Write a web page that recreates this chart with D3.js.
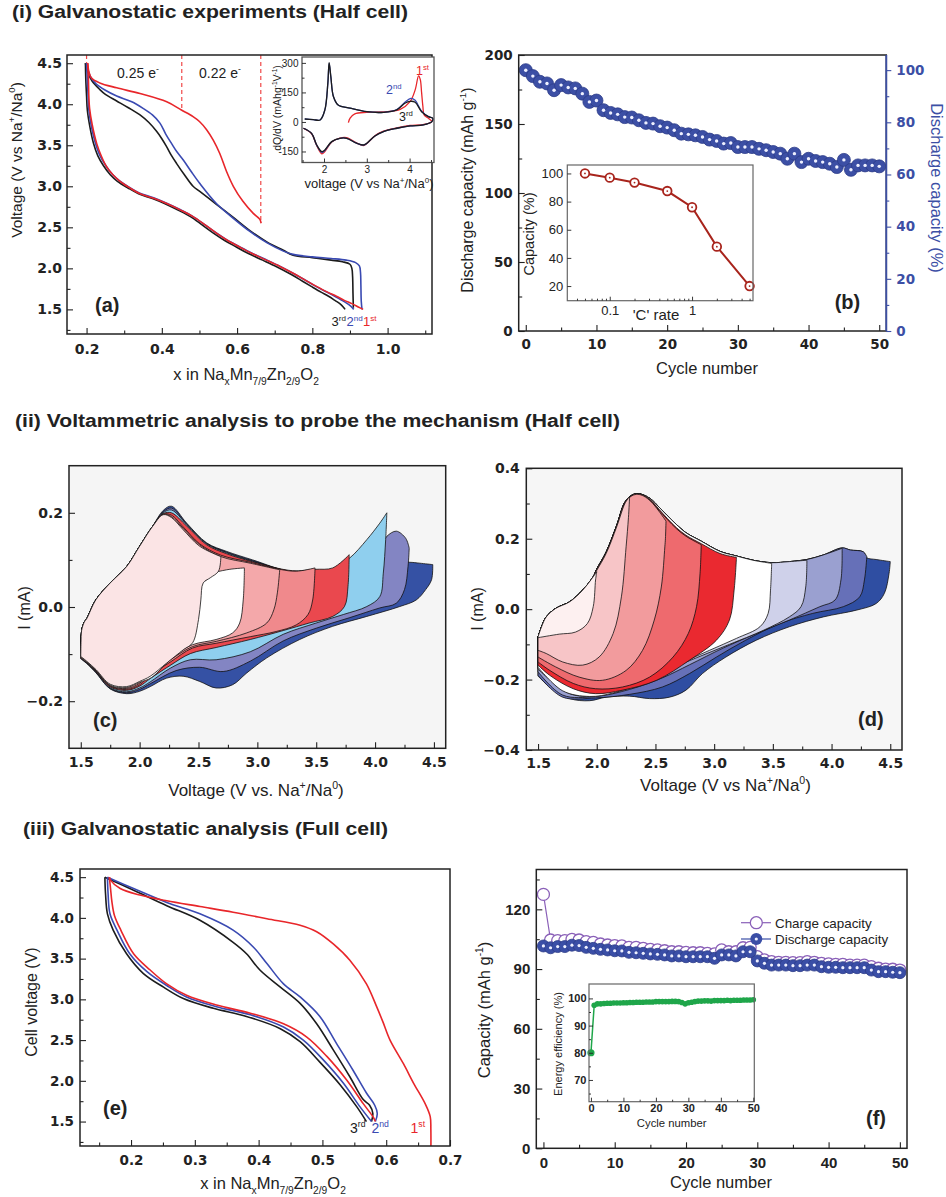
<!DOCTYPE html>
<html><head><meta charset="utf-8">
<script src="https://cdn.jsdelivr.net/npm/d3@7"></script>
<style>body{margin:0;background:#fff}svg{display:block}</style>
</head><body>
<svg id="chart" width="946" height="1197"></svg>
<script>
// ---------------- DATA ----------------
// (a) half-cell galvanostatic curves [x in NaxMn7/9Zn2/9O2, voltage]
const aRedCharge = [[0.664,2.55],[0.66,2.6],[0.643,2.67],[0.615,2.82],[0.59,3.0],[0.572,3.18],[0.554,3.4],[0.537,3.56],[0.519,3.69],[0.5,3.79],[0.483,3.85],[0.452,3.93],[0.413,4.03],[0.342,4.13],[0.28,4.2],[0.235,4.26],[0.213,4.32],[0.206,4.4],[0.204,4.46],[0.203,4.5]];
const aRedDischarge = [[0.203,4.5],[0.205,4.3],[0.206,4.1],[0.208,3.95],[0.215,3.75],[0.227,3.52],[0.24,3.36],[0.253,3.24],[0.27,3.14],[0.289,3.06],[0.315,2.98],[0.342,2.91],[0.38,2.85],[0.413,2.79],[0.45,2.71],[0.483,2.63],[0.515,2.53],[0.545,2.43],[0.575,2.34],[0.607,2.26],[0.64,2.18],[0.678,2.1],[0.715,2.02],[0.749,1.94],[0.78,1.86],[0.811,1.78],[0.84,1.71],[0.864,1.66],[0.885,1.61],[0.905,1.57],[0.922,1.53],[0.935,1.5]];
const aBlueCharge = [[0.932,1.5],[0.93,1.6],[0.929,1.8],[0.928,1.95],[0.925,2.03],[0.915,2.07],[0.89,2.1],[0.85,2.12],[0.8,2.14],[0.749,2.17],[0.723,2.21],[0.68,2.31],[0.634,2.45],[0.59,2.61],[0.545,2.79],[0.5,3.04],[0.478,3.18],[0.457,3.32],[0.44,3.42],[0.426,3.52],[0.41,3.64],[0.395,3.77],[0.375,3.87],[0.35,3.95],[0.32,4.03],[0.28,4.1],[0.25,4.17],[0.225,4.25],[0.21,4.34],[0.202,4.45],[0.2,4.5]];
const aBlueDischarge = [[0.2,4.5],[0.202,4.3],[0.204,4.1],[0.206,3.93],[0.212,3.75],[0.222,3.55],[0.235,3.38],[0.25,3.26],[0.268,3.15],[0.287,3.07],[0.313,2.99],[0.34,2.92],[0.378,2.86],[0.41,2.8],[0.447,2.72],[0.48,2.64],[0.512,2.54],[0.542,2.44],[0.572,2.35],[0.604,2.27],[0.637,2.19],[0.675,2.11],[0.712,2.03],[0.745,1.95],[0.776,1.87],[0.806,1.79],[0.834,1.72],[0.856,1.67],[0.875,1.62],[0.89,1.58],[0.902,1.54],[0.91,1.5]];
const aBlackCharge = [[0.909,1.52],[0.908,1.7],[0.907,1.9],[0.905,2.0],[0.9,2.05],[0.88,2.08],[0.85,2.1],[0.8,2.13],[0.749,2.16],[0.723,2.22],[0.68,2.32],[0.634,2.46],[0.59,2.62],[0.545,2.78],[0.5,2.94],[0.483,3.0],[0.46,3.14],[0.439,3.28],[0.425,3.38],[0.413,3.48],[0.4,3.58],[0.386,3.67],[0.365,3.78],[0.342,3.87],[0.31,3.96],[0.28,4.04],[0.25,4.12],[0.235,4.18],[0.215,4.28],[0.204,4.38],[0.197,4.5]];
const aBlackDischarge = [[0.197,4.5],[0.198,4.3],[0.2,4.1],[0.202,3.93],[0.209,3.72],[0.218,3.53],[0.23,3.37],[0.245,3.25],[0.263,3.14],[0.282,3.06],[0.31,2.98],[0.338,2.91],[0.375,2.85],[0.407,2.79],[0.443,2.71],[0.476,2.63],[0.507,2.53],[0.537,2.43],[0.567,2.34],[0.598,2.26],[0.63,2.18],[0.668,2.1],[0.705,2.02],[0.738,1.94],[0.768,1.86],[0.797,1.78],[0.823,1.71],[0.843,1.66],[0.86,1.61],[0.873,1.57],[0.882,1.53],[0.887,1.5]];
const aDashMarks = [[0.2,4.5],[0.453,3.93],[0.663,2.57]];
const aXTicks = [0.2,0.4,0.6,0.8,1.0], aXMinor = [0.3,0.5,0.7,0.9,1.1];
const aYTicks = [1.5,2.0,2.5,3.0,3.5,4.0,4.5], aYMinor = [1.25,1.75,2.25,2.75,3.25,3.75,4.25];
// (a) inset dQ/dV [V, mAh g-1 V-1]
const aiBlack = [[1.55,15],[1.75,12],[1.91,10],[2.02,61],[2.09,197],[2.12,301],[2.16,230],[2.22,129],[2.33,86],[2.61,70],[3.0,52],[3.39,49],[3.7,61],[3.89,95],[4.01,105],[4.13,100],[4.28,52],[4.44,27],[4.54,19],[4.52,2],[4.32,-15],[4.01,-20],[3.7,-32],[3.39,-49],[3.19,-71],[3.0,-108],[2.92,-117],[2.76,-108],[2.53,-83],[2.37,-83],[2.18,-100],[2.02,-142],[1.95,-151],[1.83,-117],[1.71,-58],[1.52,-32]];
const aiBlue = [[1.55,15],[1.75,12],[1.91,10],[2.02,61],[2.09,197],[2.12,298],[2.16,228],[2.22,129],[2.33,86],[2.61,70],[3.0,52],[3.39,49],[3.7,63],[3.89,100],[4.03,120],[4.13,110],[4.28,55],[4.44,27],[4.54,19],[4.52,2],[4.32,-15],[4.01,-20],[3.7,-32],[3.39,-49],[3.19,-71],[3.0,-109],[2.92,-118],[2.76,-108],[2.53,-83],[2.37,-83],[2.18,-101],[2.02,-145],[1.95,-155],[1.83,-118],[1.71,-58],[1.52,-32]];
const aiRed = [[2.57,-3],[2.61,19],[2.72,41],[3.0,49],[3.46,52],[3.78,64],[4.01,103],[4.13,163],[4.21,234],[4.25,215],[4.28,150],[4.31,80],[4.34,36],[4.44,19],[4.52,2],[4.32,-13],[4.01,-18],[3.7,-30],[3.39,-47],[3.19,-70],[3.0,-110],[2.92,-120],[2.76,-106],[2.53,-80],[2.37,-82],[2.18,-102],[2.02,-150],[1.95,-162],[1.83,-120],[1.71,-60],[1.52,-32]];
const aiXTicks = [2,3,4], aiXMinor = [1.5,2.5,3.5,4.5], aiYTicks = [-150,0,150,300], aiYMinor = [-75,75,225];

// (b) cycling, discharge capacity (mAh g-1)
const bCycle = d3.range(0, 51);
const bCapacity = [189,184.7,180.6,179.4,174.5,178.2,176.5,175.8,172,166,167,160,158,157,155,154.7,152.7,150.8,150.3,148.4,147.4,145.5,143,142.5,141.8,140.6,138.7,137.7,135.8,136.2,133.3,133.3,133.3,132,131,129.7,128.5,124.8,128.5,122.4,124.8,123.2,122.4,121.2,118.8,124,116.8,120,120,120,119.3];
const bXTicks = [0,10,20,30,40,50], bXMinor = [5,15,25,35,45];
const bYTicks = [0,50,100,150,200], bYMinor = [25,75,125,175];
const bRTicks = [0,20,40,60,80,100], bRMinor = [10,30,50,70,90];
// (b) inset rate capability
const biRate = [0.05,0.1,0.2,0.5,1,2,5];
const biCapacity = [100,97,93.5,87.5,76,48,20];
const biXTicks = [0.1,1], biXMinor = [0.04,0.05,0.06,0.07,0.08,0.09,0.2,0.3,0.4,0.5,0.6,0.7,0.8,0.9,2,3,4,5];
const biYTicks = [20,40,60,80,100];

// (c) CV loops, upper cutoffs (V), drawn back to front
const cCutoffs = [4.5,4.3,4.1,3.8,3.5,3.2,2.9,2.7];
const cColors = ['#3551a4','#8385c3','#8fcfee','#ea484e','#f0898c','#f4a8aa','#ffffff','#fbe4e5'];
const cRise = [[1.5,-0.105],[1.502,-0.075],[1.507,-0.05],[1.53,-0.032],[1.55,-0.025],[1.63,0.016],[1.75,0.051],[1.89,0.086],[2.0,0.129],[2.11,0.171]];
const cTails = [
 [[2.2,0.205],[2.27,0.214],[2.4,0.178],[2.57,0.136],[2.74,0.118],[2.96,0.1],[3.3,0.074],[3.6,0.074],[3.9,0.085],[4.1,0.093],[4.29,0.095],[4.38,0.093],[4.49,0.09]],
 [[2.2,0.202],[2.27,0.21],[2.4,0.176],[2.57,0.135],[2.74,0.116],[2.96,0.098],[3.3,0.074],[3.6,0.074],[3.9,0.09],[4.05,0.13],[4.1,0.15],[4.18,0.161],[4.26,0.146],[4.29,0.125]],
 [[2.2,0.2],[2.27,0.206],[2.4,0.175],[2.57,0.134],[2.74,0.115],[2.96,0.097],[3.3,0.075],[3.6,0.076],[3.78,0.103],[3.93,0.143],[4.04,0.178],[4.1,0.2]],
 [[2.2,0.198],[2.27,0.2],[2.4,0.172],[2.57,0.132],[2.74,0.113],[2.96,0.096],[3.3,0.077],[3.49,0.08],[3.64,0.083],[3.78,0.111]],
 [[2.2,0.197],[2.27,0.195],[2.37,0.17],[2.51,0.134],[2.69,0.11],[2.94,0.095],[3.19,0.08],[3.33,0.076],[3.49,0.083]],
 [[2.2,0.196],[2.27,0.192],[2.37,0.167],[2.51,0.132],[2.69,0.107],[2.94,0.093],[3.19,0.079]],
 [[2.2,0.19],[2.3,0.155],[2.4,0.105],[2.5,0.062],[2.56,0.056],[2.6,0.069],[2.74,0.079],[2.89,0.083]],
 [[2.2,0.196],[2.27,0.19],[2.37,0.164],[2.51,0.129],[2.69,0.107]]
];
const cLowers = [
 [[4.48,0.058],[4.43,0.037],[4.35,0.015],[4.21,0.001],[3.93,-0.02],[3.64,-0.041],[3.36,-0.069],[3.08,-0.108],[2.91,-0.14],[2.79,-0.165],[2.65,-0.172],[2.51,-0.158],[2.37,-0.147],[2.23,-0.151],[2.09,-0.169],[2.0,-0.179],[1.89,-0.184],[1.75,-0.174],[1.63,-0.14],[1.55,-0.12],[1.5,-0.11]],
 [[4.28,0.086],[4.25,0.037],[4.18,0.008],[4.04,-0.002],[3.78,-0.023],[3.5,-0.045],[3.22,-0.072],[2.94,-0.115],[2.71,-0.137],[2.51,-0.128],[2.31,-0.135],[2.09,-0.163],[2.0,-0.175],[1.89,-0.182],[1.75,-0.173],[1.63,-0.139],[1.55,-0.119],[1.5,-0.109]],
 [[4.09,0.143],[4.07,0.072],[4.04,0.022],[3.93,0.001],[3.73,-0.016],[3.5,-0.034],[3.22,-0.058],[2.94,-0.095],[2.65,-0.112],[2.43,-0.112],[2.26,-0.13],[2.09,-0.159],[2.0,-0.172],[1.89,-0.18],[1.75,-0.172],[1.63,-0.138],[1.55,-0.118],[1.5,-0.108]],
 [[3.77,0.044],[3.74,0.001],[3.64,-0.02],[3.44,-0.034],[3.22,-0.05],[2.94,-0.069],[2.65,-0.086],[2.43,-0.099],[2.26,-0.124],[2.09,-0.152],[2.0,-0.168],[1.89,-0.177],[1.75,-0.17],[1.63,-0.137],[1.55,-0.118],[1.5,-0.108]],
 [[3.47,0.015],[3.43,-0.016],[3.33,-0.038],[3.16,-0.052],[2.94,-0.063],[2.65,-0.077],[2.45,-0.087],[2.26,-0.117],[2.09,-0.145],[2.0,-0.165],[1.89,-0.175],[1.75,-0.168],[1.63,-0.136],[1.55,-0.118],[1.5,-0.108]],
 [[3.17,0.03],[3.14,-0.006],[3.08,-0.034],[2.91,-0.055],[2.65,-0.073],[2.45,-0.084],[2.26,-0.112],[2.09,-0.14],[2.0,-0.162],[1.89,-0.173],[1.75,-0.167],[1.63,-0.135],[1.55,-0.117],[1.5,-0.107]],
 [[2.88,0.015],[2.85,-0.034],[2.79,-0.055],[2.65,-0.069],[2.45,-0.08],[2.3,-0.102],[2.1,-0.15],[2.0,-0.16],[1.89,-0.171],[1.75,-0.166],[1.63,-0.134],[1.55,-0.116],[1.5,-0.106]],
 [[2.67,0.076],[2.6,0.062],[2.54,0.051],[2.52,0.015],[2.5,-0.027],[2.45,-0.076],[2.37,-0.091],[2.23,-0.119],[2.09,-0.147],[2.0,-0.158],[1.89,-0.169],[1.75,-0.164],[1.63,-0.133],[1.55,-0.115],[1.5,-0.105]]
];
const cXTicks = [1.5,2.0,2.5,3.0,3.5,4.0,4.5], cXMinor = [1.75,2.25,2.75,3.25,3.75,4.25];
const cYTicks = [-0.2,0.0,0.2], cYMinor = [-0.1,0.1];

// (d) CV loops
const dCutoffs = [4.5,4.3,4.1,3.8,3.5,3.2,2.9,2.6,2.3,2.0];
const dColors = ['#2f4ea2','#6670b8','#9aa0d0','#cfd1ea','#ffffff','#ea2930','#ee6a6e','#f29b9d','#f7c5c7','#fdf0f0'];
const dRise = [[1.5,-0.079],[1.53,-0.05],[1.57,-0.022],[1.65,0.002],[1.77,0.021],[1.88,0.054],[1.97,0.092]];
const dBlueTop = [[2.0,0.114],[2.08,0.162],[2.17,0.238],[2.24,0.304],[2.3,0.324],[2.35,0.328],[2.4,0.324],[2.46,0.313],[2.53,0.29],[2.6,0.266],[2.68,0.24],[2.76,0.217],[2.89,0.193],[3.05,0.164],[3.19,0.151]];
const dTails = [
 dBlueTop.concat([[3.33,0.139],[3.49,0.132],[3.64,0.135],[3.79,0.141],[3.93,0.154],[4.09,0.174],[4.16,0.168],[4.27,0.163],[4.3,0.146],[4.38,0.141],[4.5,0.135]]),
 dBlueTop.concat([[3.33,0.139],[3.49,0.132],[3.64,0.135],[3.79,0.141],[3.93,0.154],[4.09,0.174],[4.16,0.168],[4.27,0.163],[4.3,0.149]]),
 dBlueTop.concat([[3.33,0.139],[3.49,0.132],[3.64,0.135],[3.79,0.141],[3.93,0.154],[4.09,0.173]]),
 dBlueTop.concat([[3.33,0.139],[3.49,0.132],[3.64,0.135],[3.79,0.139]]),
 dBlueTop.concat([[3.33,0.139],[3.49,0.13]]),
 [[2.0,0.113],[2.08,0.161],[2.17,0.237],[2.24,0.303],[2.3,0.323],[2.35,0.327],[2.4,0.323],[2.46,0.31],[2.53,0.284],[2.6,0.258],[2.68,0.231],[2.76,0.21],[2.89,0.186],[3.05,0.158],[3.19,0.147]],
 [[2.0,0.113],[2.08,0.161],[2.17,0.237],[2.24,0.303],[2.3,0.323],[2.35,0.327],[2.4,0.322],[2.46,0.308],[2.53,0.281],[2.6,0.255],[2.68,0.228],[2.76,0.207],[2.89,0.183]],
 [[2.0,0.112],[2.08,0.16],[2.17,0.236],[2.24,0.302],[2.3,0.322],[2.35,0.326],[2.4,0.321],[2.46,0.306],[2.53,0.278],[2.59,0.25]],
 [[2.0,0.11],[2.08,0.158],[2.17,0.234],[2.24,0.3],[2.28,0.32]],
 [[2.0,0.106]]
];
const dLowers = [
 [[4.49,0.102],[4.45,0.045],[4.38,0.016],[4.21,-0.003],[3.93,-0.022],[3.64,-0.05],[3.36,-0.088],[3.1,-0.136],[2.9,-0.183],[2.76,-0.23],[2.62,-0.25],[2.45,-0.254],[2.28,-0.247],[2.08,-0.25],[1.94,-0.26],[1.77,-0.254],[1.6,-0.221],[1.5,-0.19]],
 [[4.28,0.083],[4.24,0.035],[4.1,0.007],[3.84,-0.012],[3.56,-0.041],[3.27,-0.088],[3.02,-0.136],[2.79,-0.183],[2.56,-0.221],[2.28,-0.242],[1.99,-0.252],[1.71,-0.25],[1.5,-0.188]],
 [[4.08,0.083],[4.03,0.026],[3.9,0.007],[3.64,-0.031],[3.36,-0.069],[3.08,-0.11],[2.79,-0.158],[2.56,-0.195],[2.28,-0.228],[1.99,-0.248],[1.71,-0.244],[1.5,-0.178]],
 [[3.78,0.063],[3.74,0.007],[3.64,-0.022],[3.42,-0.06],[3.13,-0.1],[2.85,-0.138],[2.56,-0.178],[2.28,-0.215],[1.99,-0.245],[1.77,-0.24],[1.5,-0.17]],
 [[3.48,0.054],[3.46,-0.012],[3.39,-0.05],[3.19,-0.083],[2.96,-0.117],[2.71,-0.155],[2.42,-0.205],[2.14,-0.238],[1.94,-0.248],[1.71,-0.232],[1.5,-0.165]],
 [[3.17,0.054],[3.13,-0.031],[3.02,-0.088],[2.79,-0.145],[2.51,-0.202],[2.22,-0.23],[1.99,-0.24],[1.8,-0.226],[1.6,-0.188],[1.5,-0.159]],
 [[2.88,0.102],[2.85,0.007],[2.78,-0.069],[2.65,-0.136],[2.45,-0.193],[2.22,-0.221],[1.99,-0.226],[1.8,-0.211],[1.6,-0.174],[1.5,-0.15]],
 [[2.585,0.2],[2.58,0.177],[2.55,0.063],[2.49,-0.031],[2.39,-0.117],[2.25,-0.174],[2.05,-0.202],[1.85,-0.193],[1.65,-0.164],[1.5,-0.136]],
 [[2.27,0.26],[2.25,0.177],[2.21,0.035],[2.14,-0.069],[2.02,-0.136],[1.88,-0.159],[1.71,-0.15],[1.57,-0.126],[1.5,-0.117]],
 [[1.99,0.083],[1.97,0.007],[1.92,-0.041],[1.82,-0.065],[1.68,-0.071],[1.5,-0.081]]
];
const dYTicks = [-0.4,-0.2,0.0,0.2,0.4], dYMinor = [-0.3,-0.1,0.1,0.3];

// (e) full cell galvanostatic curves
const eRedCharge = [[0.67,1.1],[0.67,1.4],[0.669,1.56],[0.661,1.72],[0.643,1.97],[0.627,2.21],[0.606,2.5],[0.595,2.72],[0.585,2.91],[0.569,3.19],[0.543,3.48],[0.517,3.68],[0.491,3.83],[0.465,3.91],[0.413,3.99],[0.36,4.07],[0.308,4.14],[0.256,4.21],[0.214,4.28],[0.183,4.36],[0.168,4.46],[0.166,4.5]];
const eRedDischarge = [[0.166,4.5],[0.168,4.35],[0.17,4.2],[0.174,4.03],[0.184,3.85],[0.204,3.56],[0.23,3.36],[0.256,3.19],[0.287,3.05],[0.334,2.93],[0.387,2.83],[0.439,2.7],[0.475,2.54],[0.507,2.3],[0.538,2.01],[0.564,1.72],[0.58,1.55],[0.583,1.5]];
const eBlueCharge = [[0.583,1.5],[0.586,1.6],[0.582,1.7],[0.569,1.85],[0.548,2.13],[0.522,2.46],[0.496,2.79],[0.465,3.03],[0.439,3.19],[0.413,3.44],[0.392,3.64],[0.36,3.85],[0.308,4.05],[0.256,4.19],[0.204,4.36],[0.163,4.5]];
const eBlueDischarge = [[0.163,4.5],[0.164,4.3],[0.167,4.05],[0.178,3.85],[0.198,3.56],[0.225,3.34],[0.256,3.17],[0.287,3.03],[0.334,2.91],[0.387,2.81],[0.439,2.66],[0.47,2.5],[0.501,2.26],[0.533,1.97],[0.559,1.68],[0.577,1.5]];
const eBlackCharge = [[0.577,1.5],[0.579,1.6],[0.574,1.7],[0.564,1.77],[0.543,2.05],[0.517,2.38],[0.491,2.7],[0.465,2.95],[0.434,3.15],[0.402,3.36],[0.381,3.56],[0.36,3.7],[0.308,3.97],[0.256,4.15],[0.204,4.34],[0.159,4.5]];
const eBlackDischarge = [[0.159,4.5],[0.16,4.3],[0.163,4.05],[0.172,3.85],[0.193,3.56],[0.219,3.32],[0.251,3.15],[0.282,3.01],[0.329,2.89],[0.381,2.79],[0.434,2.64],[0.465,2.48],[0.496,2.23],[0.528,1.95],[0.554,1.68],[0.569,1.5]];
const eXTicks = [0.2,0.3,0.4,0.5,0.6,0.7], eXMinor = [0.15,0.25,0.35,0.45,0.55,0.65];
const eYTicks = [1.5,2.0,2.5,3.0,3.5,4.0,4.5], eYMinor = [1.25,1.75,2.25,2.75,3.25,3.75,4.25];

// (f) full cell cycling
const fCycle = d3.range(0, 51);
const fCharge = [127.5,104.6,104.3,104.3,104.9,104.6,103.8,103.4,102.6,102.1,101.8,101.6,100.9,100.9,100.4,99.9,99.6,99.2,98.7,98.7,98.4,98.2,98.2,97.9,97.6,99.6,98.7,98.7,100.7,100.9,96.2,94.6,93.7,93.4,93.4,93.2,93.2,93.7,93.4,92.9,92.6,92.4,92.4,92.0,92.0,92.0,91.2,90.4,90.0,89.9,89.5];
const fDischarge = [101.6,100.7,101.3,101.3,102.0,101.8,100.9,100.4,99.9,99.6,99.2,99.1,98.4,98.2,97.9,97.6,97.4,97.1,96.6,96.6,96.2,96.2,96.2,96.2,95.4,97.1,97.1,96.6,98.7,98.7,94.1,92.9,92.0,92.0,92.0,91.7,91.7,92.0,92.0,91.2,90.9,90.9,90.7,90.7,90.7,90.7,89.5,88.7,88.7,88.4,88.2];
const fEfficiency = [80,97.5,98,98,98.1,98.2,98.2,98.3,98.3,98.3,98.4,98.4,98.5,98.5,98.6,98.6,98.6,98.7,98.7,98.7,98.8,98.8,98.8,98.8,98.8,98.9,98.9,98.8,98.5,98.0,98.4,98.6,98.8,99.0,99.0,99.1,99.1,99.0,99.2,99.2,99.2,99.2,99.3,99.2,99.3,99.3,99.3,99.4,99.4,99.4,99.5];
const fXTicks = [0,10,20,30,40,50], fXMinor = [5,15,25,35,45];
const fYTicks = [0,30,60,90,120], fYMinor = [15,45,75,105,135];
const fiYTicks = [70,80,90,100], fiYMinor = [65,75,85,95];

// ---------------- DRAWING ----------------
const FONT = '"Liberation Sans", Arial, Helvetica, sans-serif';
const TFONT = '"DejaVu Sans", Verdana, sans-serif';
const RED = '#e8262a', BLUE = '#3a4ab2', BLACK = '#1c1c1c', DARK = '#222';
const svg = d3.select('#chart');
const defs = svg.append('defs');
const curve = d3.curveCatmullRom.alpha(0.5);

function clip(id, x0, y0, x1, y1) {
  defs.append('clipPath').attr('id', id).append('rect').attr('x', x0).attr('y', y0).attr('width', x1 - x0).attr('height', y1 - y0);
  return `url(#${id})`;
}
function frame(g, x0, y0, x1, y1, col, sw) {
  g.append('rect').attr('x', x0).attr('y', y0).attr('width', x1 - x0).attr('height', y1 - y0)
    .attr('fill', 'none').attr('stroke', col || DARK).attr('stroke-width', sw || 1.5);
}
function axis(g, scale, orient, at, major, minor, o) {
  const mk = {bottom: d3.axisBottom, left: d3.axisLeft, right: d3.axisRight}[orient];
  const tr = orient === 'bottom' ? `translate(0,${at})` : `translate(${at},0)`;
  const dir = o.out ? 1 : -1;
  const col = o.color || DARK;
  if (minor) {
    const m = g.append('g').attr('transform', tr).call(mk(scale).tickValues(minor).tickSizeInner(dir * (o.minLen || 3.5)).tickSizeOuter(0).tickFormat(''));
    m.select('.domain').remove();
    m.selectAll('line').attr('stroke', col).attr('stroke-width', o.sw || 1.1);
    m.selectAll('text').remove();
  }
  const a = g.append('g').attr('transform', tr).call(mk(scale).tickValues(major).tickSizeInner(dir * (o.len || 6)).tickSizeOuter(0).tickPadding(o.pad).tickFormat(o.fmt));
  a.select('.domain').remove();
  a.selectAll('line').attr('stroke', col).attr('stroke-width', o.sw || 1.1);
  a.selectAll('text').attr('font-family', o.family || TFONT).attr('font-size', o.fs).attr('font-weight', o.weight || 'bold').attr('fill', col);
}
function rich(g, x, y, parts, fs, o = {}) {
  const t = g.append('text').attr('x', x).attr('y', y)
    .attr('font-family', o.family || FONT).attr('font-size', fs)
    .attr('font-weight', o.weight || 'normal').attr('fill', o.color || DARK)
    .attr('text-anchor', o.anchor || 'start');
  if (o.rotate) t.attr('transform', `rotate(${o.rotate},${x},${y})`);
  if (o.len) t.attr('textLength', o.len).attr('lengthAdjust', 'spacingAndGlyphs');
  let cur = 0;
  for (const p of parts) {
    const [s, k] = Array.isArray(p) ? p : [p, ''];
    const off = k === 'sup' ? -0.42 * fs : k === 'sub' ? 0.28 * fs : 0;
    const ts = t.append('tspan').text(s);
    if (off - cur !== 0) ts.attr('dy', off - cur);
    if (k) ts.attr('font-size', fs * 0.62);
    cur = off;
  }
  return t;
}
function lineGen(xs, ys) { return d3.line().x(d => xs(d[0])).y(d => ys(d[1])).curve(curve); }
function loopD(xs, ys, upper, lower) {
  const ln = lineGen(xs, ys);
  const a = ln(upper);
  const b = ln([upper[upper.length - 1]].concat(lower));
  return a + b.replace(/^M[^A-Za-z]*/, '') + 'Z';
}
const fmtInt = d3.format('d');
const minusFmt = d => d < 0 ? '-' + fmtInt(-d) : fmtInt(d);

// Section titles
rich(svg, 12, 18, ['(i) Galvanostatic experiments (Half cell)'], 18, {weight: 'bold', len: 396});
rich(svg, 15, 427, ['(ii) Voltammetric analysis to probe the mechanism (Half cell)'], 18, {weight: 'bold', len: 605});
rich(svg, 23, 835, ['(iii) Galvanostatic analysis (Full cell)'], 18, {weight: 'bold', len: 365});

// ---------- (a) ----------
{
  const g = svg.append('g');
  const x = d3.scaleLinear([0.148, 1.118], [67, 432]);
  const y = d3.scaleLinear([1.2, 4.6], [334, 55]);
  const cp = clip('clipA', 67, 55, 432, 334);
  const pg = g.append('g').attr('clip-path', cp);
  const ln = lineGen(x, y);
  pg.selectAll('line.dash').data(aDashMarks).join('line')
    .attr('x1', d => x(d[0])).attr('x2', d => x(d[0])).attr('y1', y(4.6)).attr('y2', d => y(d[1]))
    .attr('stroke', '#f04848').attr('stroke-width', 1.2).attr('stroke-dasharray', '4,3');
  [[aBlackCharge, BLACK], [aBlackDischarge, BLACK], [aBlueCharge, BLUE], [aBlueDischarge, BLUE], [aRedCharge, RED], [aRedDischarge, RED]]
    .forEach(([d, c]) => pg.append('path').attr('d', ln(d)).attr('fill', 'none').attr('stroke', c).attr('stroke-width', 1.6));
  frame(g, 67, 55, 432, 334);
  axis(g, x, 'bottom', 334, aXTicks, aXMinor, {pad: 10, fs: 14, fmt: d3.format('.1f')});
  axis(g, y, 'left', 67, aYTicks, aYMinor, {pad: 5, fs: 14, fmt: d3.format('.1f')});
  rich(g, 22, 160, ['Voltage (V vs Na', ['+', 'sup'], '/Na', ['0', 'sup'], ')'], 15.5, {anchor: 'middle', rotate: -90});
  rich(g, 246, 380, ['x in Na', ['x', 'sub'], 'Mn', ['7/9', 'sub'], 'Zn', ['2/9', 'sub'], 'O', ['2', 'sub']], 16.5, {anchor: 'middle'});
  rich(g, 117, 78, ['0.25 e', ['-', 'sup']], 14);
  rich(g, 199, 78, ['0.22 e', ['-', 'sup']], 14);
  rich(g, 331.5, 326, ['3', ['rd', 'sup']], 13, {color: BLACK});
  rich(g, 346.5, 326, ['2', ['nd', 'sup']], 13, {color: BLUE});
  rich(g, 363, 326, ['1', ['st', 'sup']], 13, {color: RED});
  g.append('text').attr('x', 95).attr('y', 312).attr('font-family', FONT).attr('font-size', 20).attr('font-weight', 'bold').attr('fill', DARK).text('(a)');

  // inset
  const ix = d3.scaleLinear([1.486, 4.57], [302, 434]);
  const iy = d3.scaleLinear([-206, 330], [162.5, 57]);
  g.append('rect').attr('x', 302).attr('y', 57).attr('width', 132).attr('height', 105.5).attr('fill', '#fff');
  const icp = clip('clipAi', 302, 57, 434, 162.5);
  const ig = g.append('g').attr('clip-path', icp);
  const iln = lineGen(ix, iy);
  [[aiRed, RED], [aiBlue, BLUE], [aiBlack, BLACK]].forEach(([d, c]) =>
    ig.append('path').attr('d', iln(d)).attr('fill', 'none').attr('stroke', c).attr('stroke-width', 1.3));
  frame(g, 302, 57, 434, 162.5, '#555', 1.3);
  axis(g, ix, 'bottom', 162.5, aiXTicks, aiXMinor, {pad: 3.7, fs: 10, family: FONT, weight: 'normal', len: 4, minLen: 2.5, sw: 0.9, fmt: fmtInt});
  axis(g, iy, 'left', 302, aiYTicks, aiYMinor, {pad: 3.5, fs: 10, family: FONT, weight: 'normal', len: 4, minLen: 2.5, sw: 0.9, fmt: minusFmt});
  rich(g, 281, 108, ['dQ/dV (mAhg', ['-1', 'sup'], 'V', ['-1', 'sup'], ')'], 10.5, {anchor: 'middle', rotate: -90});
  rich(g, 369, 188, ['voltage (V vs Na', ['+', 'sup'], '/Na', ['0', 'sup'], ')'], 13, {anchor: 'middle'});
  rich(g, 416, 75, ['1', ['st', 'sup']], 12.5, {color: RED});
  rich(g, 386, 94, ['2', ['nd', 'sup']], 12.5, {color: BLUE});
  rich(g, 399, 121, ['3', ['rd', 'sup']], 12.5, {color: BLACK});
}

// ---------- (b) ----------
{
  const g = svg.append('g');
  const x = d3.scaleLinear([-1, 51], [518.7, 886.3]);
  const yL = d3.scaleLinear([0, 200], [331, 55]);
  const yR = d3.scaleLinear([0, 105.8], [331, 55]);
  const MB = '#3c4fa5';
  const pts = g.append('g').attr('clip-path', clip('clipB', 518.7, 55, 886.3, 331));
  pts.selectAll('circle.o').data(bCapacity).join('circle')
    .attr('cx', (d, i) => x(bCycle[i])).attr('cy', d => yL(d)).attr('r', 6.5)
    .attr('fill', MB).attr('stroke', '#2c3b88').attr('stroke-width', 0.8);
  pts.selectAll('circle.i').data(bCapacity).join('circle')
    .attr('cx', (d, i) => x(bCycle[i])).attr('cy', d => yL(d)).attr('r', 1.7).attr('fill', '#eef0ff');
  frame(g, 518.7, 55, 886.3, 331);
  g.append('line').attr('x1', 886.3).attr('x2', 886.3).attr('y1', 55).attr('y2', 331).attr('stroke', MB).attr('stroke-width', 1.8);
  axis(g, x, 'bottom', 331, bXTicks, bXMinor, {pad: 8.4, fs: 13.5, fmt: fmtInt});
  axis(g, yL, 'left', 518.7, bYTicks, bYMinor, {pad: 6, fs: 13.5, fmt: fmtInt});
  axis(g, yR, 'right', 886.3, bRTicks, bRMinor, {pad: 5, fs: 13.5, fmt: fmtInt, out: true, color: MB, len: 5, minLen: 3});
  rich(g, 473, 190, ['Discharge capacity (mAh g', ['-1', 'sup'], ')'], 16, {anchor: 'middle', rotate: -90});
  rich(g, 931, 188, ['Discharge capacity (%)'], 16.5, {anchor: 'middle', rotate: 90, color: MB});
  rich(g, 707, 374, ['Cycle number'], 16.5, {anchor: 'middle'});
  g.append('text').attr('x', 834.7).attr('y', 309).attr('font-family', FONT).attr('font-size', 20).attr('font-weight', 'bold').attr('fill', DARK).text('(b)');

  // inset
  const ix = d3.scaleLog([0.0305, 5.5], [567.3, 753]);
  const iy = d3.scaleLinear([9.6, 106], [300.7, 165]);
  g.append('rect').attr('x', 567.3).attr('y', 165).attr('width', 185.7).attr('height', 135.7).attr('fill', '#fff');
  const DR = '#a8241c';
  const pts2 = biRate.map((r, i) => [r, biCapacity[i]]);
  g.append('path').attr('d', d3.line().x(d => ix(d[0])).y(d => iy(d[1]))(pts2)).attr('fill', 'none').attr('stroke', DR).attr('stroke-width', 2);
  g.selectAll('circle.bi').data(pts2).join('circle').attr('cx', d => ix(d[0])).attr('cy', d => iy(d[1])).attr('r', 4.3)
    .attr('fill', '#fff').attr('stroke', DR).attr('stroke-width', 1.8);
  g.selectAll('circle.bid').data(pts2).join('circle').attr('cx', d => ix(d[0])).attr('cy', d => iy(d[1])).attr('r', 0.9).attr('fill', DR);
  frame(g, 567.3, 165, 753, 300.7, '#666', 1.2);
  axis(g, ix, 'bottom', 300.7, biXTicks, biXMinor, {pad: 5.4, fs: 13, family: FONT, weight: 'normal', fmt: d3.format('~g'), len: 4, minLen: 2, sw: 0.9});
  axis(g, iy, 'left', 567.3, biYTicks, null, {pad: 4, fs: 13, family: FONT, weight: 'normal', fmt: fmtInt, len: 4, sw: 0.9});
  rich(g, 534, 234, ['Capacity (%)'], 14.5, {anchor: 'middle', rotate: -90});
  rich(g, 656, 320, ["'C' rate"], 15, {anchor: 'middle'});
}

// ---------- (c) ----------
{
  const g = svg.append('g');
  const x = d3.scaleLinear([1.4, 4.6], [69, 445.7]);
  const y = d3.scaleLinear([-0.3, 0.3], [748.3, 465.7]);
  g.append('rect').attr('x', 69).attr('y', 465.7).attr('width', 376.7).attr('height', 282.6).attr('fill', '#f5f5f5');
  const pg = g.append('g').attr('clip-path', clip('clipC', 69, 465.7, 445.7, 748.3));
  cCutoffs.forEach((v, i) => {
    pg.append('path').attr('d', loopD(x, y, cRise.concat(cTails[i]), cLowers[i]))
      .attr('fill', cColors[i]).attr('stroke', '#111').attr('stroke-width', 0.8).attr('stroke-linejoin', 'round');
  });
  frame(g, 69, 465.7, 445.7, 748.3);
  axis(g, x, 'bottom', 748.3, cXTicks, cXMinor, {pad: 8.5, fs: 14, fmt: d3.format('.1f')});
  axis(g, y, 'left', 69, cYTicks, cYMinor, {pad: 6, fs: 14, fmt: d3.format('.1f')});
  rich(g, 29.5, 608, ['I (mA)'], 16, {anchor: 'middle', rotate: -90});
  rich(g, 256, 796, ['Voltage (V vs. Na', ['+', 'sup'], '/Na', ['0', 'sup'], ')'], 17, {anchor: 'middle'});
  g.append('text').attr('x', 93).attr('y', 727).attr('font-family', FONT).attr('font-size', 20).attr('font-weight', 'bold').attr('fill', DARK).text('(c)');
}

// ---------- (d) ----------
{
  const g = svg.append('g');
  const x = d3.scaleLinear([1.4, 4.6], [526.3, 902]);
  const y = d3.scaleLinear([-0.4, 0.4], [750, 468.3]);
  g.append('rect').attr('x', 526.3).attr('y', 468.3).attr('width', 375.7).attr('height', 281.7).attr('fill', '#f6f6f6');
  const pg = g.append('g').attr('clip-path', clip('clipD', 526.3, 468.3, 902, 750));
  dCutoffs.forEach((v, i) => {
    pg.append('path').attr('d', loopD(x, y, dRise.concat(dTails[i]), dLowers[i]))
      .attr('fill', dColors[i]).attr('stroke', '#111').attr('stroke-width', 0.8).attr('stroke-linejoin', 'round');
  });
  frame(g, 526.3, 468.3, 902, 750);
  axis(g, x, 'bottom', 750, cXTicks, cXMinor, {pad: 8.3, fs: 14, fmt: d3.format('.1f')});
  axis(g, y, 'left', 526.3, dYTicks, dYMinor, {pad: 6.5, fs: 14, fmt: d3.format('.1f')});
  rich(g, 483, 609, ['I (mA)'], 16, {anchor: 'middle', rotate: -90});
  rich(g, 725.5, 791, ['Voltage (V vs Na', ['+', 'sup'], '/Na', ['0', 'sup'], ')'], 17, {anchor: 'middle'});
  g.append('text').attr('x', 858).attr('y', 726).attr('font-family', FONT).attr('font-size', 20).attr('font-weight', 'bold').attr('fill', DARK).text('(d)');
}

// ---------- (e) ----------
{
  const g = svg.append('g');
  const x = d3.scaleLinear([0.12, 0.7], [80, 450]);
  const y = d3.scaleLinear([1.2, 4.6], [1146, 869]);
  const pg = g.append('g').attr('clip-path', clip('clipE', 80, 869, 450, 1146));
  const ln = lineGen(x, y);
  [[eBlackCharge, BLACK], [eBlackDischarge, BLACK], [eBlueCharge, BLUE], [eBlueDischarge, BLUE], [eRedCharge, RED], [eRedDischarge, RED]]
    .forEach(([d, c]) => pg.append('path').attr('d', ln(d)).attr('fill', 'none').attr('stroke', c).attr('stroke-width', 1.6));
  frame(g, 80, 869, 450, 1146);
  axis(g, x, 'bottom', 1146, eXTicks, eXMinor, {pad: 9, fs: 13.5, fmt: d3.format('.1f')});
  axis(g, y, 'left', 80, eYTicks, eYMinor, {pad: 6, fs: 13.5, fmt: d3.format('.1f')});
  rich(g, 37, 1002, ['Cell voltage (V)'], 16, {anchor: 'middle', rotate: -90});
  rich(g, 273, 1189, ['x in Na', ['x', 'sub'], 'Mn', ['7/9', 'sub'], 'Zn', ['2/9', 'sub'], 'O', ['2', 'sub']], 16.5, {anchor: 'middle'});
  rich(g, 350, 1133, ['3', ['rd', 'sup']], 14, {color: BLACK});
  rich(g, 371.5, 1133, ['2', ['nd', 'sup']], 14, {color: BLUE});
  rich(g, 410.5, 1133, ['1', ['st', 'sup']], 14, {color: RED});
  g.append('text').attr('x', 103).attr('y', 1115).attr('font-family', FONT).attr('font-size', 20).attr('font-weight', 'bold').attr('fill', DARK).text('(e)');
}

// ---------- (f) ----------
{
  const g = svg.append('g');
  const x = d3.scaleLinear([-1, 51], [536.3, 907]);
  const y = d3.scaleLinear([0, 140], [1148.3, 869.5]);
  const PUR = '#8a60b8', MB = '#3a4ea6';
  const pg = g.append('g').attr('clip-path', clip('clipF', 536.3, 869.5, 907, 1148.3));
  const chg = fCharge.map((v, i) => [fCycle[i], v]);
  const dis = fDischarge.map((v, i) => [fCycle[i], v]);
  const lf = d3.line().x(d => x(d[0])).y(d => y(d[1]));
  pg.append('path').attr('d', lf(chg)).attr('fill', 'none').attr('stroke', PUR).attr('stroke-width', 1.2);
  pg.selectAll('circle.c').data(chg).join('circle').attr('cx', d => x(d[0])).attr('cy', d => y(d[1])).attr('r', 6)
    .attr('fill', '#fff').attr('stroke', PUR).attr('stroke-width', 1.3);
  pg.append('path').attr('d', lf(dis)).attr('fill', 'none').attr('stroke', MB).attr('stroke-width', 1.2);
  pg.selectAll('circle.d').data(dis).join('circle').attr('cx', d => x(d[0])).attr('cy', d => y(d[1])).attr('r', 6)
    .attr('fill', MB).attr('stroke', '#2c3b88').attr('stroke-width', 0.8);
  pg.selectAll('circle.dd').data(dis).join('circle').attr('cx', d => x(d[0])).attr('cy', d => y(d[1])).attr('r', 1.6).attr('fill', '#eef0ff');
  frame(g, 536.3, 869.5, 907, 1148.3);
  axis(g, x, 'bottom', 1148.3, fXTicks, fXMinor, {pad: 9, fs: 15, family: FONT, fmt: fmtInt});
  axis(g, y, 'left', 536.3, fYTicks, fYMinor, {pad: 6, fs: 15, family: FONT, fmt: fmtInt});
  rich(g, 490, 1010, ['Capacity (mAh g', ['-1', 'sup'], ')'], 16.5, {anchor: 'middle', rotate: -90});
  rich(g, 721, 1188, ['Cycle number'], 16.5, {anchor: 'middle'});
  g.append('text').attr('x', 866).attr('y', 1125).attr('font-family', FONT).attr('font-size', 20).attr('font-weight', 'bold').attr('fill', DARK).text('(f)');
  // legend
  g.append('line').attr('x1', 741).attr('x2', 771).attr('y1', 922.7).attr('y2', 922.7).attr('stroke', PUR).attr('stroke-width', 1.2);
  g.append('circle').attr('cx', 756.3).attr('cy', 922.7).attr('r', 6).attr('fill', '#fff').attr('stroke', PUR).attr('stroke-width', 1.3);
  g.append('line').attr('x1', 741).attr('x2', 771).attr('y1', 939).attr('y2', 939).attr('stroke', MB).attr('stroke-width', 1.2);
  g.append('circle').attr('cx', 756.3).attr('cy', 939).attr('r', 6).attr('fill', MB);
  g.append('circle').attr('cx', 756.3).attr('cy', 939).attr('r', 1.6).attr('fill', '#eef0ff');
  rich(g, 775, 927.5, ['Charge capacity'], 13.4);
  rich(g, 775, 943.8, ['Discharge capacity'], 13.4);

  // inset
  const ix = d3.scaleLinear([-0.6, 50.3], [589, 754.3]);
  const iy = d3.scaleLinear([62, 105.3], [1101.7, 984]);
  g.append('rect').attr('x', 589).attr('y', 984).attr('width', 165.3).attr('height', 117.7).attr('fill', '#fff');
  const GR = '#1fa64a';
  const eff = fEfficiency.map((v, i) => [fCycle[i], v]);
  g.append('path').attr('d', d3.line().x(d => ix(d[0])).y(d => iy(d[1]))(eff)).attr('fill', 'none').attr('stroke', GR).attr('stroke-width', 1.5);
  g.selectAll('circle.e').data(eff).join('circle').attr('cx', d => ix(d[0])).attr('cy', d => iy(d[1]))
    .attr('r', (d, i) => i === 0 ? 3.6 : 2.8).attr('fill', GR);
  frame(g, 589, 984, 754.3, 1101.7, '#666', 1.2);
  axis(g, ix, 'bottom', 1101.7, fXTicks, fXMinor, {pad: 2.5, fs: 11, family: FONT, fmt: fmtInt, len: 4, minLen: 2, sw: 0.9});
  axis(g, iy, 'left', 589, fiYTicks, fiYMinor, {pad: 2.5, fs: 11, family: FONT, fmt: fmtInt, len: 4, minLen: 2, sw: 0.9});
  rich(g, 562, 1044, ['Energy efficiency (%)'], 11, {anchor: 'middle', rotate: -90});
  rich(g, 671.7, 1126.7, ['Cycle number'], 11.3, {anchor: 'middle'});
}
</script>
</body></html>
